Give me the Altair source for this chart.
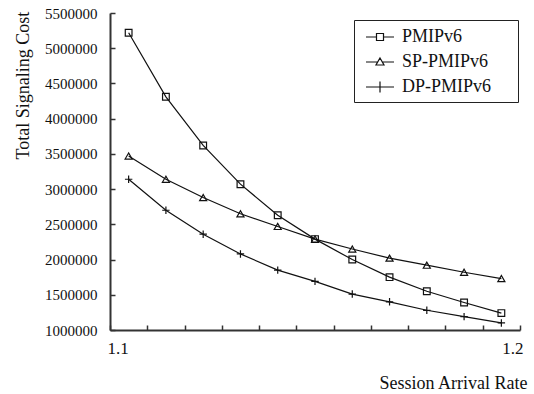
import altair as alt
import pandas as pd

rates = [1.10, 1.11, 1.12, 1.13, 1.14, 1.15, 1.16, 1.17, 1.18, 1.19, 1.20]
pmipv6 = [5220000, 4310000, 3620000, 3070000, 2630000, 2290000, 2000000, 1750000, 1550000, 1390000, 1240000]
sp_pmipv6 = [3470000, 3140000, 2880000, 2650000, 2470000, 2290000, 2150000, 2020000, 1920000, 1820000, 1730000]
dp_pmipv6 = [3140000, 2700000, 2360000, 2080000, 1850000, 1690000, 1510000, 1400000, 1280000, 1190000, 1100000]
series_names = ["PMIPv6", "SP-PMIPv6", "DP-PMIPv6"]
x_tick_values = [1.095, 1.105, 1.115, 1.125, 1.135, 1.145, 1.155, 1.165, 1.175, 1.185, 1.195, 1.205]
y_tick_values = [1000000, 1500000, 2000000, 2500000, 3000000, 3500000, 4000000, 4500000, 5000000, 5500000]

rows = []
for name, vals in zip(series_names, [pmipv6, sp_pmipv6, dp_pmipv6]):
    for r, v in zip(rates, vals):
        rows.append({"rate": r, "cost": v, "series": name})
df = pd.DataFrame(rows)

FONT = "Liberation Serif"

x_enc = alt.X(
    "rate:Q",
    scale=alt.Scale(domain=[1.095, 1.205], nice=False, zero=False),
    axis=alt.Axis(
        values=x_tick_values,
        labelExpr="datum.value < 1.1 ? '1.1' : (datum.value > 1.2 ? '1.2' : '')",
        labelFlush=1,
        labelFlushOffset=3,
        labelOverlap=False,
        labelFont=FONT,
        labelFontSize=17,
        labelColor="#111",
        labelPadding=15,
        tickSize=alt.ExprRef(expr="-5"),
        tickColor="#333",
        tickWidth=1.5,
        domainColor="#333",
        domainWidth=2,
        grid=False,
        title="Session Arrival Rate",
        titleFont=FONT,
        titleFontSize=18,
        titleFontWeight="normal",
        titleColor="#111",
        titleAlign="right",
        titleBaseline="alphabetic",
        titleX=417,
        titleY=58,
    ),
)

y_enc = alt.Y(
    "cost:Q",
    scale=alt.Scale(domain=[1000000, 5500000], nice=False, zero=False),
    axis=alt.Axis(
        values=y_tick_values,
        format="d",
        labelFont=FONT,
        labelFontSize=15,
        labelColor="#111",
        labelPadding=18,
        tickSize=alt.ExprRef(expr="-5"),
        tickColor="#333",
        tickWidth=1.5,
        domainColor="#333",
        domainWidth=2,
        grid=False,
        title="Total Signaling Cost",
        titleFont=FONT,
        titleFontSize=18,
        titleFontWeight="normal",
        titleColor="#111",
        titleAngle=270,
        titleAlign="center",
        titleBaseline="middle",
        titleX=-87,
        titleY=72,
    ),
)

lines = alt.Chart(df).mark_line(color="#111", strokeWidth=1.2).encode(
    x=x_enc, y=y_enc, detail="series:N"
)

points = alt.Chart(df).mark_point(filled=False, color="#111", strokeWidth=1.2, opacity=1).encode(
    x=x_enc,
    y=y_enc,
    shape=alt.Shape(
        "series:N",
        scale=alt.Scale(
            domain=series_names,
            range=["square", "triangle-up", "M-1,0H1M0,-1V1"],
        ),
        legend=None,
    ),
    size=alt.Size(
        "series:N",
        scale=alt.Scale(domain=series_names, range=[45, 55, 64]),
        legend=None,
    ),
)

legend_layer = alt.Chart(df).mark_point(filled=False, color="#111", strokeWidth=1.2, opacity=0).encode(
    x=x_enc,
    y=y_enc,
    shape=alt.Shape(
        "series:N",
        scale=alt.Scale(
            domain=series_names,
            range=[
                "M-0.5,0H0.55M1.25,0H2.3M0.55,-0.35H1.25V0.35H0.55Z",
                "M-0.5,0H0.67M1.13,0H2.3M0.9,-0.4L1.3,0.3H0.5Z",
                "M-0.5,0H2.3M0.9,-0.55V0.55",
            ],
        ),
        legend=alt.Legend(
            title="MM",
            titleOrient="right",
            titleOpacity=0,
            titleFontSize=10,
            titlePadding=4,
            orient="none",
            legendX=244,
            legendY=7,
            direction="vertical",
            strokeColor="#222",
            fillColor="white",
            padding=6,
            symbolSize=400,
            symbolStrokeWidth=1.2,
            symbolStrokeColor="#111",
            labelFont=FONT,
            labelFontSize=18,
            labelColor="#111",
            labelOffset=20,
            rowPadding=5,
        ),
    ),
)

chart = (
    alt.layer(lines, points, legend_layer)
    .resolve_scale(shape="independent")
    .properties(
        width=410,
        height=317,
        padding={"left": 110, "top": 13, "right": 14, "bottom": 64},
        autosize=alt.AutoSizeParams(type="none"),
        background="white",
    )
    .configure_view(stroke=None)
)

chart.save("out.html", embed_options={"renderer": "svg", "actions": False})
